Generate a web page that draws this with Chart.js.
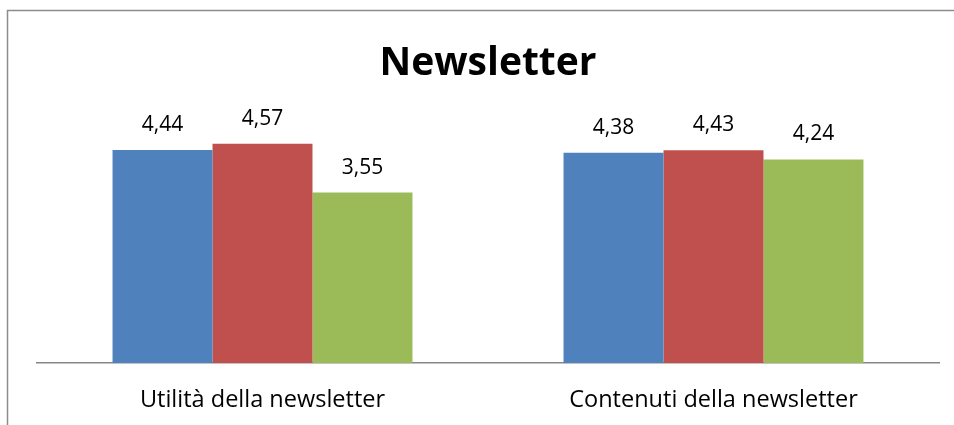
<!DOCTYPE html>
<html>
<head>
<meta charset="utf-8">
<script src="https://cdn.jsdelivr.net/npm/chart.js@4"></script>
<style>
  html, body { margin: 0; padding: 0; background: #fff; }
  #wrap { width: 954px; height: 425px; }
</style>
</head>
<body>
<div id="wrap"><canvas id="barChart"></canvas></div>
<script>
const categories = ['Utilità della newsletter', 'Contenuti della newsletter'];
const serieBlu = [4.44, 4.38];
const serieRossa = [4.57, 4.43];
const serieVerde = [3.55, 4.24];

const fontFamily = '"Open Sans", sans-serif';

// cornice grigia (lati destro e inferiore tagliati come nell'originale)
const frame = {
    id: 'frame',
    beforeDraw(chart) {
        const ctx = chart.ctx;
        ctx.save();
        ctx.strokeStyle = '#8c8c8c';
        ctx.lineWidth = 1.5;
        ctx.beginPath();
        ctx.moveTo(7.5, chart.height + 2);
        ctx.lineTo(7.5, 10.5);
        ctx.lineTo(chart.width + 2, 10.5);
        ctx.stroke();
        ctx.restore();
    }
};

// etichette valori sopra le barre
const valueLabels = {
    id: 'valueLabels',
    afterDatasetsDraw(chart) {
        const ctx = chart.ctx;
        ctx.save();
        ctx.font = '21px ' + fontFamily;
        ctx.fillStyle = '#000';
        ctx.textAlign = 'center';
        ctx.textBaseline = 'middle';
        chart.data.datasets.forEach((ds, i) => {
            chart.getDatasetMeta(i).data.forEach((bar, j) => {
                const txt = ds.data[j].toFixed(2).replace('.', ',');
                ctx.fillText(txt, bar.x, bar.y - 25);
            });
        });
        ctx.restore();
    }
};

new Chart(document.getElementById('barChart').getContext('2d'), {
    type: 'bar',
    data: {
        labels: categories,
        datasets: [
            { label: 'Serie 1', data: serieBlu, backgroundColor: '#4F81BD' },
            { label: 'Serie 2', data: serieRossa, backgroundColor: '#C0504D' },
            { label: 'Serie 3', data: serieVerde, backgroundColor: '#9BBB59' }
        ]
    },
    options: {
        responsive: true,
        maintainAspectRatio: false,
        animation: false,
        layout: { padding: { left: 37, right: 15, top: 0, bottom: 11 } },
        datasets: {
            bar: { barPercentage: 1, categoryPercentage: 0.665 }
        },
        plugins: {
            legend: { display: false },
            tooltip: { enabled: false },
            title: {
                display: true,
                text: 'Newsletter',
                color: '#000',
                font: { family: fontFamily, size: 39, weight: 'bold', lineHeight: 1.2 },
                padding: { top: 40.6, bottom: 35.6 }
            }
        },
        scales: {
            x: {
                grid: { display: false, drawTicks: false },
                border: { display: true, color: '#868686', width: 1.5 },
                ticks: { color: '#000', font: { family: fontFamily, size: 23.5, lineHeight: 1.2 }, padding: 23 },
                afterFit(scale) { scale.height = 51; }
            },
            y: {
                display: false,
                min: 0,
                max: 5
            }
        }
    },
    plugins: [frame, valueLabels]
});
</script>
</body>
</html>
